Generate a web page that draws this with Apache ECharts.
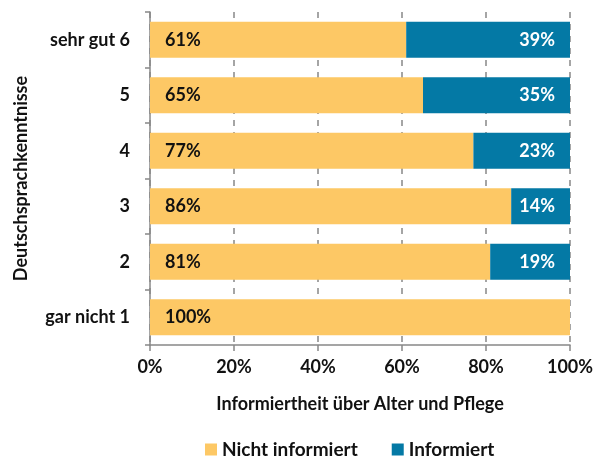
<!DOCTYPE html>
<html>
<head>
<meta charset="utf-8">
<script src="https://cdn.jsdelivr.net/npm/echarts@6/dist/echarts.min.js"></script>
<style>
html,body{margin:0;padding:0;background:#fff;}
#main{width:593px;height:464px;}
</style>
</head>
<body>
<div id="main"></div>
<script>
// Kategorien (von unten nach oben)
var categories = ['gar nicht 1', '2', '3', '4', '5', 'sehr gut 6'];
var nichtInformiert = [100, 81, 86, 77, 65, 61];
var informiert = [0, 19, 14, 23, 35, 39];
var xTicks = [0, 20, 40, 60, 80, 100];

var fontFam = 'Lato, "Open Sans", sans-serif';
var myChart = echarts.init(document.getElementById('main'));
var option = {
    animation: false,
    textStyle: {fontFamily: fontFam},
    grid: {left: 150, right: 23, top: 12, bottom: 119, containLabel: false, outerBoundsMode: 'none'},
    legend: {
        bottom: 0,
        left: 200,
        itemWidth: 12,
        itemHeight: 12,
        itemGap: 34,
        icon: 'rect',
        textStyle: {fontSize: 19, fontWeight: 'bold', color: '#111', fontFamily: fontFam},
        data: ['Nicht informiert', 'Informiert']
    },
    xAxis: {
        type: 'value',
        min: xTicks[0],
        max: xTicks[xTicks.length - 1],
        interval: 20,
        name: 'Informiertheit über Alter und Pflege',
        nameLocation: 'middle',
        nameGap: 50,
        nameTextStyle: {fontSize: 18, fontWeight: 'bold', color: '#111'},
        axisLine: {show: true, lineStyle: {color: '#888', width: 1.5}},
        axisTick: {show: true, length: 6, lineStyle: {color: '#888', width: 1.5}},
        axisLabel: {formatter: '{value}%', fontSize: 18, fontWeight: 'bold', color: '#111', margin: 13},
        splitLine: {show: true, lineStyle: {color: '#888', type: [6, 6], width: 1.5}}
    },
    yAxis: {
        type: 'category',
        data: categories,
        name: 'Deutschsprachkenntnisse',
        nameLocation: 'middle',
        nameGap: 120,
        nameTextStyle: {fontSize: 18, fontWeight: 'bold', color: '#111'},
        axisLine: {show: true, lineStyle: {color: '#888', width: 1.5}},
        axisTick: {show: true, length: 5, lineStyle: {color: '#888', width: 1.5}},
        axisLabel: {fontSize: 18, fontWeight: 'bold', color: '#111', margin: 20}
    },
    series: [
        {
            name: 'Nicht informiert',
            type: 'bar',
            stack: 'a',
            barCategoryGap: '35%',
            itemStyle: {color: '#FDC865'},
            label: {
                show: true, position: 'insideLeft', distance: 15,
                formatter: '{c}%', fontSize: 18, fontWeight: 'bold', color: '#111'
            },
            data: nichtInformiert
        },
        {
            name: 'Informiert',
            type: 'bar',
            stack: 'a',
            itemStyle: {color: '#0479A5'},
            label: {
                show: true, position: 'insideRight', distance: 15,
                formatter: function (p) { return p.value > 0 ? p.value + '%' : ''; },
                fontSize: 18, fontWeight: 'bold', color: '#fff'
            },
            data: informiert
        }
    ]
};
myChart.setOption(option);
</script>
</body>
</html>
